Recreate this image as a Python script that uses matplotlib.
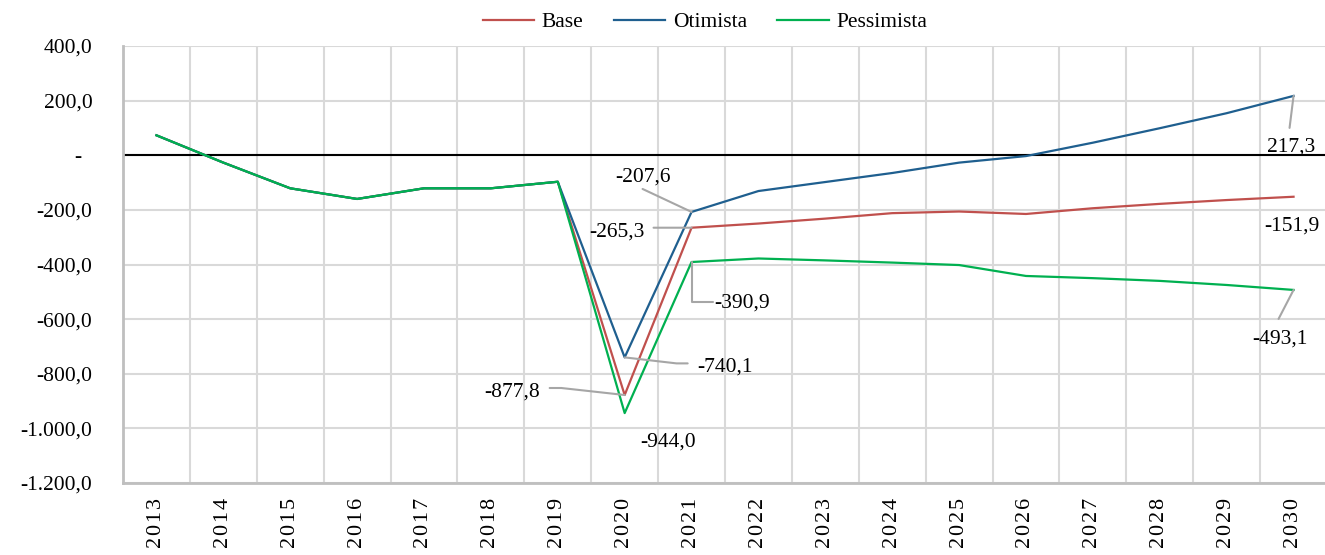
import matplotlib
matplotlib.use("Agg")
import matplotlib.pyplot as plt
import numpy as np
from matplotlib.ticker import FuncFormatter, FixedLocator

plt.rcParams["font.family"] = ["Liberation Serif", "DejaVu Serif"]

years = list(range(2013, 2031))
base = [73, -27, -121, -160, -121, -121, -97, -877.8, -265.3, -250, -232, -212,
        -206, -215, -194, -178, -164, -151.9]
otimista = [73, -27, -121, -160, -121, -121, -97, -740.1, -207.6, -131, -98, -65,
            -27, -3, 46, 99, 154, 217.3]
pessimista = [73, -27, -121, -160, -121, -121, -97, -944.0, -390.9, -378, -385, -393,
              -402, -442, -450, -460, -475, -493.1]

c_base = "#C0504D"
c_oti = "#1F5F8F"
c_pes = "#00B050"
c_lead = "#A6A6A6"

fig = plt.figure(figsize=(13.25, 5.55), dpi=100)
ax = fig.add_axes([123/1325, 1-483/555, 1204/1325, (483-46)/555])

x = np.arange(len(years))
ax.plot(x, base, color=c_base, lw=1.6, label="Base", zorder=3)
ax.plot(x, otimista, color=c_oti, lw=1.6, label="Otimista", zorder=3)
ax.plot(x, pessimista, color=c_pes, lw=1.6, label="Pessimista", zorder=3)
ax.axhline(0, color="black", lw=1.5, zorder=2)

ax.set_xlim(-0.5, len(years)-0.5)
ax.set_ylim(-1200, 400)
ax.set_yticks(np.arange(-1200, 401, 200))

def fmt(v, pos):
    if v == 0:
        return "-  "
    s = "{:,.1f}".format(v)
    return s.replace(",", "X").replace(".", ",").replace("X", ".")

ax.yaxis.set_major_formatter(FuncFormatter(fmt))
ax.set_xticks(x)
ax.set_xticklabels(["\u200a".join(str(y)) for y in years], rotation=90)
ax.xaxis.set_minor_locator(FixedLocator(np.arange(0.5, len(years)-0.5, 1)))

ax.grid(axis="y", color="#D9D9D9", lw=1.5, zorder=0)
ax.grid(axis="x", which="minor", color="#D9D9D9", lw=1.5, zorder=0)
ax.tick_params(axis="both", which="both", length=0, labelsize=15.5)
ax.tick_params(axis="x", labelsize=16)
ax.tick_params(axis="y", pad=22)
ax.tick_params(axis="x", pad=11)
for s in ["top", "right"]:
    ax.spines[s].set_visible(False)
for s in ["left", "bottom"]:
    ax.spines[s].set_color("#BFBFBF")
    ax.spines[s].set_linewidth(2)

# data labels: (series, index, text offset px, leader start px, connection)
i20, i21, i30 = years.index(2020), years.index(2021), years.index(2030)
labels = [
    (otimista, i21, (-49, 35), (-49, 23), "arc3"),
    (base, i21, (-75, -4), (-38, 0), "arc3"),
    (pessimista, i21, (51, -41), (21, -40), "angle,angleA=0,angleB=90,rad=0"),
    (otimista, i20, (100, -10), (63, -6), "angle,angleA=0,angleB=-6.6,rad=0"),
    (base, i20, (-113, 3), (-75, 7), "angle,angleA=0,angleB=-6.3,rad=0"),
    (pessimista, i20, (43, -29), None, None),
    (otimista, i30, (-2, -51), (-4, -32), "arc3"),
    (base, i30, (-2, -29), None, None),
    (pessimista, i30, (-14, -49), (-15, -29), "arc3"),
]
for ser, i, toff, loff, conn in labels:
    v = ser[i]
    txt = "{:.1f}".format(v).replace(".", ",")
    ax.annotate(txt, xy=(i, v), xytext=toff, textcoords="offset pixels",
                ha="center", va="center", fontsize=15.5, zorder=5)
    if loff is not None:
        ax.annotate("", xy=(i, v), xytext=loff, textcoords="offset pixels",
                    arrowprops=dict(arrowstyle="-", color=c_lead, lw=1.5,
                                    shrinkA=0, shrinkB=0, connectionstyle=conn),
                    zorder=4)

fig.legend(loc="center", bbox_to_anchor=(705/1325, 1-22/555), ncol=3,
           frameon=False, fontsize=15.5, handlelength=2.4, handletextpad=0.35,
           columnspacing=1.4)

fig.savefig("out.png", dpi=100)
